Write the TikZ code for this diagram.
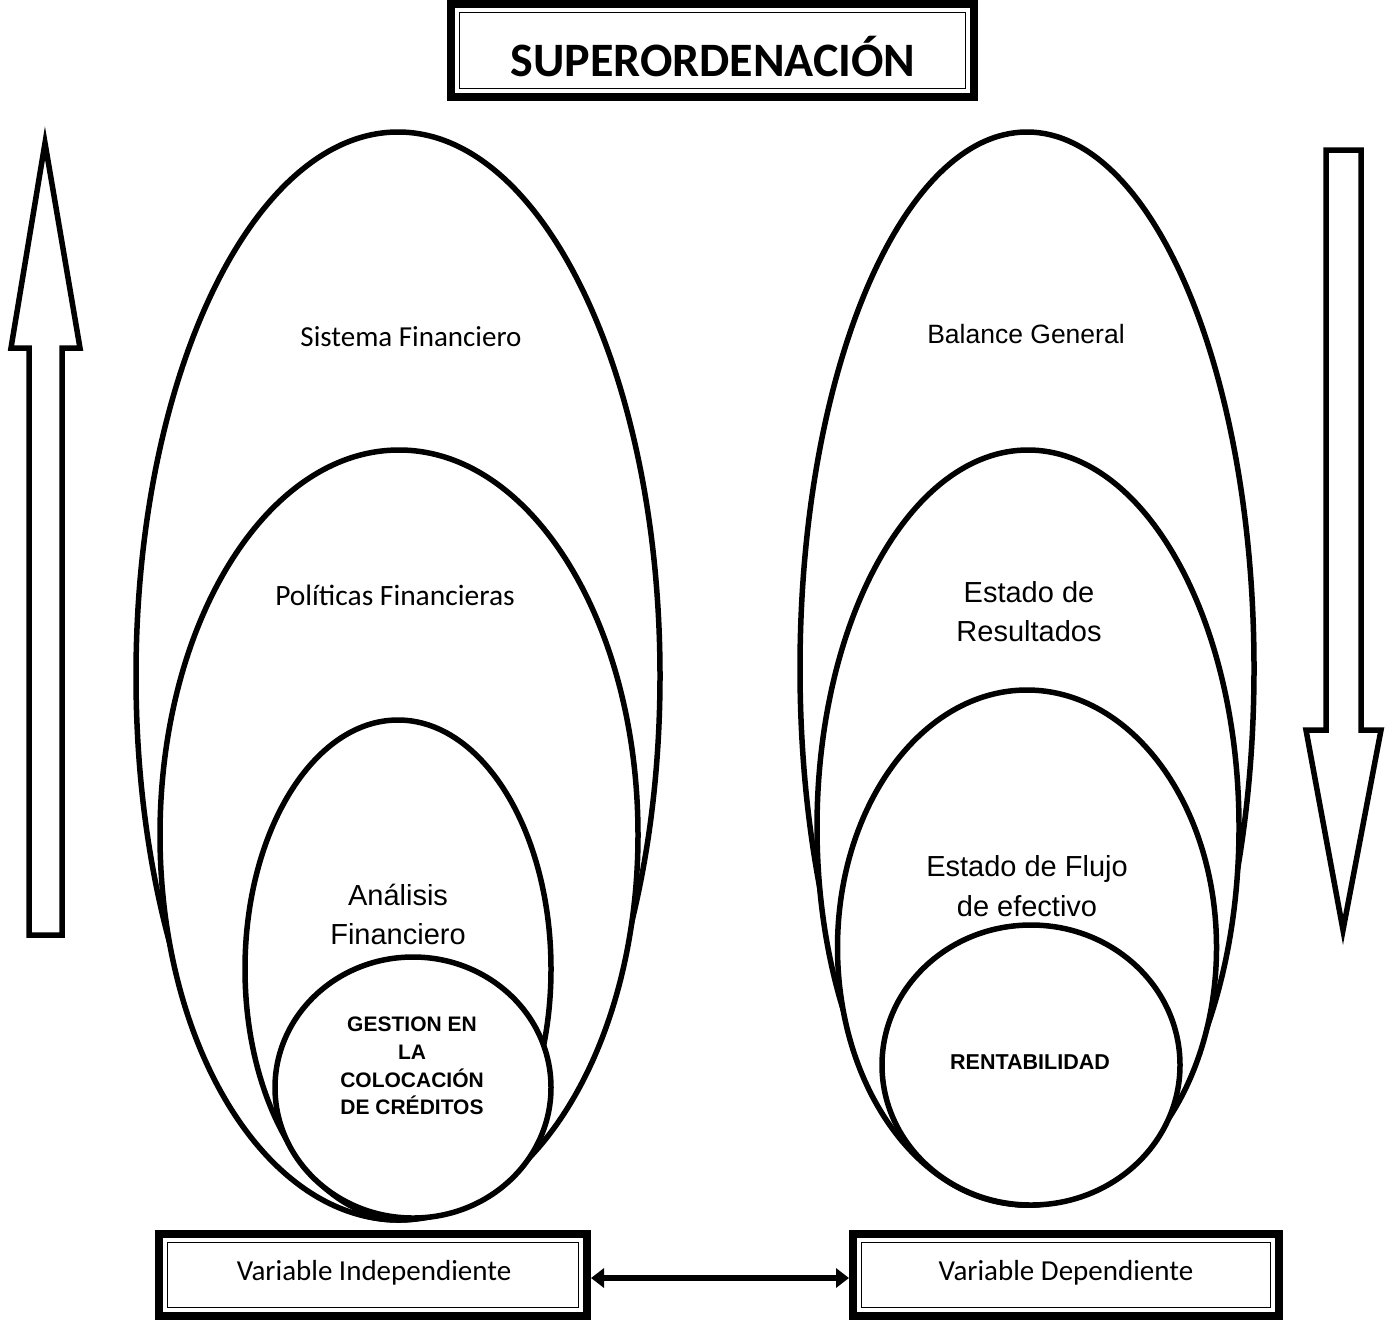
\documentclass[tikz,border=0pt]{standalone}
\usepackage{fontspec}
\setmainfont{Carlito}
\newfontfamily\arial{Liberation Sans}
\usetikzlibrary{shapes.geometric,arrows.meta}
\tikzset{
  ell/.style={ellipse, draw, fill=white, line width=5.5pt, inner sep=0pt},
  lbl/.style={align=center, inner sep=0pt},
  dbox/.style={draw, line width=8pt, fill=white, inner sep=0pt},
  ibox/.style={draw, line width=1.8pt, inner sep=0pt},
  blockarrow/.style={draw, line width=5.5pt, fill=white, line join=miter},
}
\begin{document}
\begin{tikzpicture}[x=1pt,y=-1pt]
\useasboundingbox (0,0) rectangle (1388,1320);
% title
\node[dbox, minimum width=523pt, minimum height=93pt] (title) at (712.5,50.5) {};
\node[ibox, minimum width=506pt, minimum height=76pt] (titlein) at (title.center) {};
\node[anchor=base, inner sep=0pt, font=\fontsize{48}{56}\selectfont\bfseries] (titletext) at (713,76) {SUPERORDENACIÓN};
% block arrows
\draw[blockarrow] (29,935) -- (29,348) -- (11,348) -- (45,143) -- (80,348) -- (62,348) -- (62,935) -- cycle;
\draw[blockarrow] (1326,150) -- (1361,150) -- (1361,730) -- (1381,730) -- (1343,930) -- (1306,730) -- (1326,730) -- cycle;
% left ellipses
\node[ell, minimum width=524pt, minimum height=1088pt] (sf) at (398,676) {};
\node[ell, minimum width=478pt, minimum height=770pt] (pf) at (399,835) {};
\node[ell, minimum width=306pt, minimum height=498pt] (af) at (398,969) {};
\node[ell, minimum width=276pt, minimum height=261pt] (gc) at (413,1087.5) {};
% right ellipses
\node[ell, minimum width=454pt, minimum height=1073pt] (bg) at (1027,668.5) {};
\node[ell, minimum width=422pt, minimum height=755pt] (er) at (1028,827.5) {};
\node[ell, minimum width=379pt, minimum height=515pt] (ef) at (1027,947.5) {};
\node[ell, minimum width=298pt, minimum height=280pt] (re) at (1031,1065) {};
% labels
\node[lbl, font=\fontsize{29}{35}\selectfont] (t1) at (411,337) {Sistema Financiero};
\node[lbl, font=\fontsize{29.5}{35}\selectfont] (t2) at (395,595) {Políticas Financieras};
\node[lbl, font=\arial\fontsize{29}{39}\selectfont] (t3) at (398,914) {Análisis\\Financiero};
\node[lbl, font=\arial\bfseries\fontsize{21}{27.7}\selectfont] (t4) at (412,1066) {GESTION EN\\LA\\COLOCACIÓN\\DE CRÉDITOS};
\node[lbl, font=\arial\fontsize{26.5}{30}\selectfont] (t5) at (1026,334) {Balance General};
\node[lbl, font=\arial\fontsize{29}{39}\selectfont] (t6) at (1029,612) {Estado de\\Resultados};
\node[lbl, font=\arial\fontsize{29}{40}\selectfont] (t7) at (1027,886) {Estado de Flujo\\de efectivo};
\node[lbl, font=\arial\bfseries\fontsize{21.5}{25}\selectfont] (t8) at (1030,1062) {RENTABILIDAD};
% bottom boxes
\node[dbox, minimum width=428pt, minimum height=82pt] (vi) at (373,1275) {};
\node[ibox, minimum width=411pt, minimum height=65pt] (viin) at (vi.center) {};
\node[lbl, font=\fontsize{29}{34}\selectfont] (vit) at (374,1273) {Variable Independiente};
\node[dbox, minimum width=426pt, minimum height=82pt] (vd) at (1066,1275) {};
\node[ibox, minimum width=409pt, minimum height=65pt] (vdin) at (vd.center) {};
\node[lbl, font=\fontsize{29}{34}\selectfont] (vdt) at (1066,1273) {Variable Dependiente};
\draw[line width=6pt, {Triangle[length=13pt,width=19pt]}-{Triangle[length=13pt,width=19pt]}] ([yshift=-3pt]vi.east) -- ([yshift=-3pt]vd.west);
\end{tikzpicture}
\end{document}
